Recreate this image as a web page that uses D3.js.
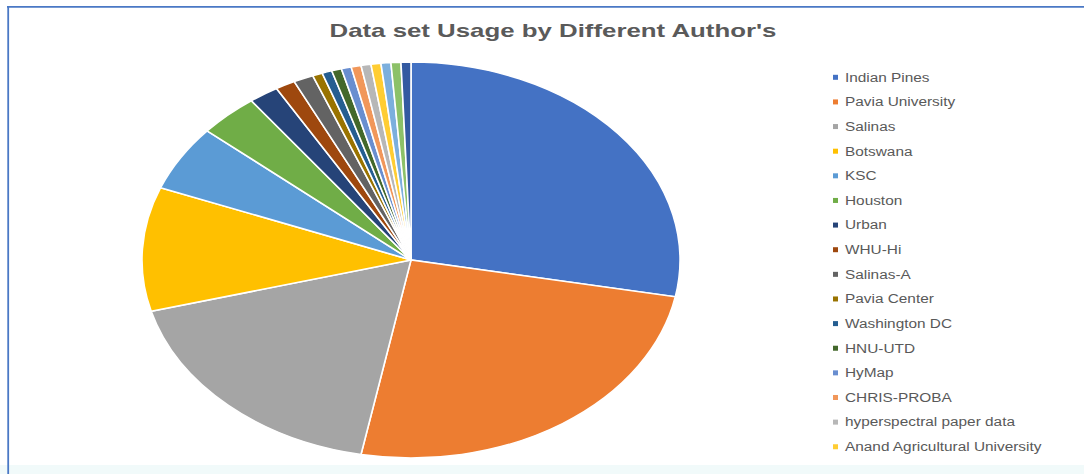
<!DOCTYPE html>
<html>
<head>
<meta charset="utf-8">
<script src="https://cdn.jsdelivr.net/npm/d3@7"></script>
<style>
  html, body { margin: 0; padding: 0; background: #ffffff; }
  svg { display: block; }
</style>
</head>
<body>
<svg id="chart" width="1084" height="474"></svg>
<script>
// Dataset usage counts (number of authors using each hyperspectral data set)
const categories = [
  "Indian Pines", "Pavia University", "Salinas", "Botswana", "KSC", "Houston",
  "Urban", "WHU-Hi", "Salinas-A", "Pavia Center", "Washington DC", "HNU-UTD",
  "HyMap", "CHRIS-PROBA", "hyperspectral paper data", "Anand Agricultural University",
  "Dataset 17", "Dataset 18", "Dataset 19"
];
const values = [47, 42, 30, 17, 9, 6, 3, 2, 2, 1, 1, 1, 1, 1, 1, 1, 1, 1, 1];
const colors = [
  "#4472C4", "#ED7D31", "#A5A5A5", "#FFC000", "#5B9BD5", "#70AD47",
  "#264478", "#9E480E", "#636363", "#997300", "#255E91", "#43682B",
  "#698ED0", "#F1975A", "#B7B7B7", "#FFCD33", "#7CAFDD", "#8CC168", "#335AA1"
];
const titleText = "Data set Usage by Different Author's";

const W = 1084, H = 474;
const chartBottom = 465;
const svg = d3.select("#chart");

const data = categories.map((name, i) => ({ name, value: values[i] }));
const color = d3.scaleOrdinal().domain(categories).range(colors);

// page strip below the chart frame
svg.append("rect")
  .attr("x", 0).attr("y", chartBottom).attr("width", W).attr("height", H - chartBottom)
  .attr("fill", "#f1fafa");

// clip region for the chart area
svg.append("defs").append("clipPath").attr("id", "area")
  .append("rect").attr("x", 0).attr("y", 0).attr("width", W).attr("height", chartBottom);

const g = svg.append("g").attr("clip-path", "url(#area)");

// frame lines (top and left)
svg.append("line")
  .attr("x1", 7).attr("x2", W).attr("y1", 6.8).attr("y2", 6.8)
  .attr("stroke", "#4a78c5").attr("stroke-width", 1.8);
svg.append("line")
  .attr("x1", 8.2).attr("x2", 8.2).attr("y1", 6).attr("y2", H)
  .attr("stroke", "#4a78c5").attr("stroke-width", 1.8);

// title
const title = g.append("text")
  .attr("font-family", "'Liberation Sans', Arial, sans-serif")
  .attr("font-weight", "bold")
  .attr("font-size", 18)
  .attr("fill", "#5a5a5a")
  .attr("text-anchor", "middle")
  .text(titleText);
const tw = title.node().getComputedTextLength();
title.attr("transform", `translate(553,37) scale(${447 / tw},1)`);

// pie, drawn as an ellipse (wider than tall)
const cx = 411, cy = 260, rx = 269, ry = 198;
const pie = d3.pie().value(d => d.value).sort(null);
const arc = d3.arc().innerRadius(0).outerRadius(ry);

g.append("g")
  .attr("transform", `translate(${cx},${cy}) scale(${rx / ry},1)`)
  .selectAll("path")
  .data(pie(data))
  .join("path")
  .attr("d", arc)
  .attr("fill", d => color(d.data.name))
  .attr("stroke", "#ffffff")
  .attr("stroke-width", 1.6)
  .attr("vector-effect", "non-scaling-stroke");

// legend: one row per category, only the rows that fit inside the chart area
const legendY = d3.scalePoint()
  .domain(categories)
  .range([77.3, 77.3 + 24.63 * (categories.length - 1)]);
const legendItems = categories.filter(c => legendY(c) + 8 < chartBottom);

const items = g.append("g").selectAll("g")
  .data(legendItems)
  .join("g")
  .attr("transform", d => `translate(0,${legendY(d)})`);

items.append("rect")
  .attr("x", 833).attr("y", -2.5).attr("width", 5).attr("height", 5)
  .attr("fill", d => color(d));

items.append("text")
  .attr("transform", "translate(845,0) scale(1.23,1)")
  .attr("dy", "0.35em")
  .attr("font-family", "'Liberation Sans', Arial, sans-serif")
  .attr("font-size", 12.5)
  .attr("fill", "#595959")
  .text(d => d);
</script>
</body>
</html>
